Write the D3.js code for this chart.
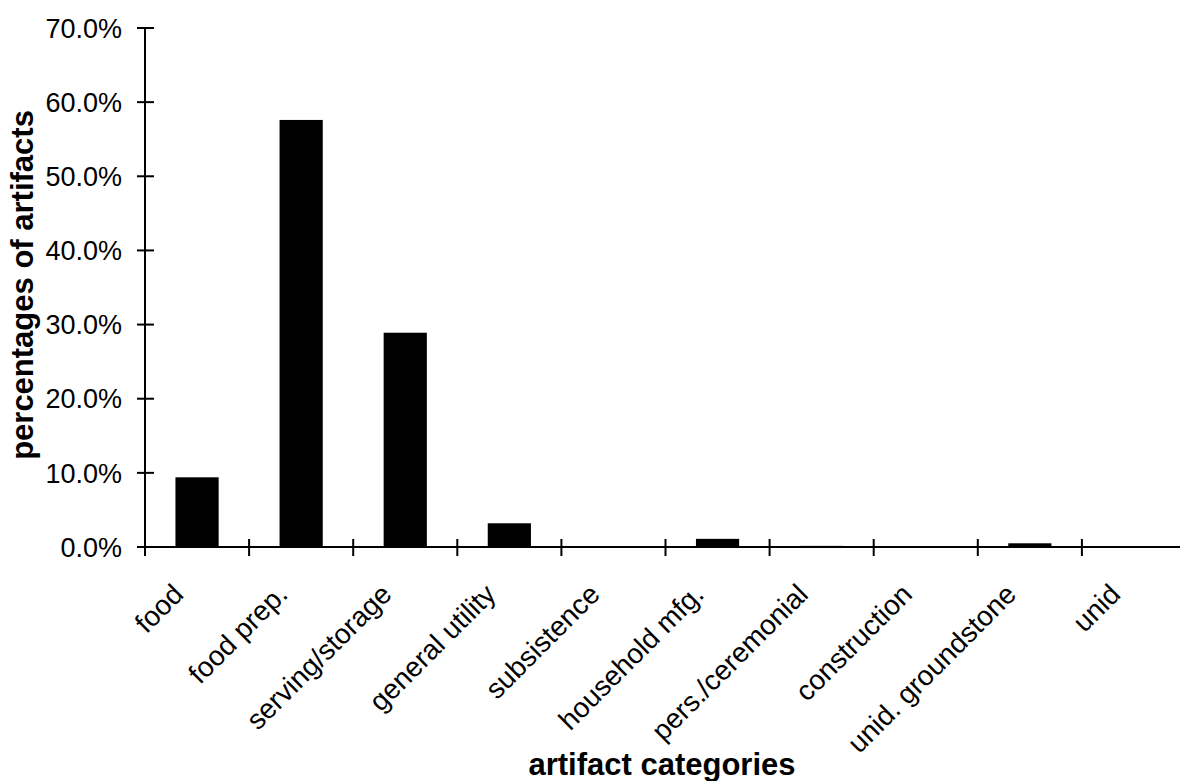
<!DOCTYPE html>
<html>
<head>
<meta charset="utf-8">
<script src="https://cdn.jsdelivr.net/npm/d3@7"></script>
<style>
  html, body { margin: 0; padding: 0; background: #fff; }
  svg { display: block; }
  text { font-family: "Liberation Sans", Arial, sans-serif; fill: #000; }
</style>
</head>
<body>
<svg id="chart" width="1180" height="781"></svg>
<script>
// Share of artifacts in each functional category
const categories = ["food", "food prep.", "serving/storage", "general utility", "subsistence",
                    "household mfg.", "pers./ceremonial", "construction", "unid. groundstone", "unid"];
const percentages = [9.4, 57.6, 28.9, 3.2, 0.05, 1.1, 0.15, 0.1, 0.5, 0.05];
const yTicks = [0, 10, 20, 30, 40, 50, 60, 70];

const svg = d3.select("#chart");

const x = d3.scaleBand()
  .domain(categories)
  .range([145, 1186])
  .paddingInner(0.585)
  .paddingOuter(0.2925);

const y = d3.scaleLinear()
  .domain([0, 70])
  .range([547, 28]);

// bars
svg.append("g")
  .selectAll("rect")
  .data(categories.map((c, i) => ({ c, v: percentages[i] })))
  .join("rect")
  .attr("x", d => x(d.c))
  .attr("width", x.bandwidth())
  .attr("y", d => y(d.v))
  .attr("height", d => y(0) - y(d.v))
  .attr("fill", "#000");

// y axis: crossing ticks, labels with one decimal
const yAxis = svg.append("g").attr("transform", "translate(145,0)");
yAxis.append("line")
  .attr("x1", 0).attr("x2", 0)
  .attr("y1", y(70)).attr("y2", y(0))
  .attr("stroke", "#000").attr("stroke-width", 2);
yAxis.selectAll("line.tick")
  .data(yTicks)
  .join("line")
  .attr("class", "tick")
  .attr("x1", -8).attr("x2", 9)
  .attr("y1", d => y(d)).attr("y2", d => y(d))
  .attr("stroke", "#000").attr("stroke-width", 2);
yAxis.selectAll("text")
  .data(yTicks)
  .join("text")
  .attr("x", -23)
  .attr("y", d => y(d))
  .attr("dy", "0.36em")
  .attr("text-anchor", "end")
  .attr("font-size", 27)
  .text(d => d.toFixed(1) + "%");

// x axis: ticks between categories, rotated labels
const step = x.step();
const boundaries = d3.range(categories.length + 1).map(i => 145 + i * step);
const xAxis = svg.append("g");
xAxis.append("line")
  .attr("x1", 145).attr("x2", 1186)
  .attr("y1", y(0)).attr("y2", y(0))
  .attr("stroke", "#000").attr("stroke-width", 2);
xAxis.selectAll("line.tick")
  .data(boundaries)
  .join("line")
  .attr("class", "tick")
  .attr("x1", d => d).attr("x2", d => d)
  .attr("y1", y(0) - 8).attr("y2", y(0) + 9)
  .attr("stroke", "#000").attr("stroke-width", 2);
xAxis.selectAll("text")
  .data(categories)
  .join("text")
  .attr("text-anchor", "end")
  .attr("font-size", 28)
  .attr("transform", d => `translate(${x(d) + x.bandwidth() / 2 - 12},${y(0) + 49}) rotate(-45)`)
  .text(d => d);

// axis titles
svg.append("text")
  .attr("x", 662)
  .attr("y", 775)
  .attr("text-anchor", "middle")
  .attr("font-size", 31)
  .attr("font-weight", "bold")
  .text("artifact categories");

svg.append("text")
  .attr("transform", "translate(33,285) rotate(-90)")
  .attr("text-anchor", "middle")
  .attr("font-size", 31)
  .attr("font-weight", "bold")
  .text("percentages of artifacts");
</script>
</body>
</html>
